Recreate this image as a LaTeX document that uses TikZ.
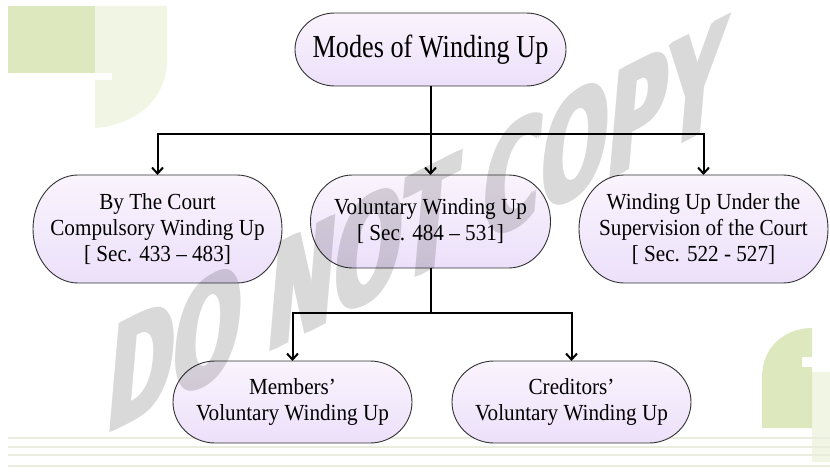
\documentclass[tikz,border=0pt]{standalone}
\usepackage{fontspec}
\setmainfont{Liberation Serif}
\newfontfamily\wmfont{DejaVu Sans}
\usetikzlibrary{arrows.meta}
\definecolor{boxtop}{RGB}{250,244,253}
\definecolor{boxbot}{RGB}{236,224,250}
\definecolor{boxline}{RGB}{50,50,50}
\definecolor{leafgreen}{RGB}{221,232,190}
\definecolor{palegreen}{RGB}{241,245,228}
\definecolor{rulecol}{RGB}{234,236,222}
\tikzset{
  anchorbox/.style={rectangle, draw=none, inner sep=0pt, outer sep=0pt},
  stadium/.style={draw=boxline, line width=0.9pt, top color=boxtop, bottom color=boxbot},
  conn/.style={line width=2pt, draw=black},
  arr/.style={conn, -{Straight Barb[length=6pt,width=11pt]}},
  ttop/.style={font=\fontsize{32}{36}\selectfont, align=center, xscale=0.82, transform shape},
  tmid/.style={font=\fontsize{23}{26}\selectfont, align=center, xscale=0.92, transform shape},
  wmtext/.style={transform shape, inner sep=0pt, text=black, font=\wmfont\bfseries\fontsize{100}{100}\selectfont},
}
\newcommand\mkstad[6]{%
  \node[anchorbox, minimum width=#4pt, minimum height=#5pt] (#1) at (#2,#3) {};
  \path[stadium] ([xshift=#6pt]#1.north west) -- ([xshift=-#6pt]#1.north east)
    arc[start angle=90, end angle=-90, x radius=#6pt, y radius=#5pt/2]
    -- ([xshift=#6pt]#1.south west)
    arc[start angle=270, end angle=90, x radius=#6pt, y radius=#5pt/2] -- cycle;
}
\begin{document}
\begin{tikzpicture}[x=1pt,y=1pt]
\useasboundingbox (0,0) rectangle (830,472);
% background decorations
\fill[leafgreen] (8,466) rectangle (95,399);
\fill[palegreen] (95,466) -- (167,466) -- (167,412) .. controls (167,372) and (135,347) .. (95,344) -- (95,392) -- (112,392) -- (112,399) -- (95,399) -- cycle;
\fill[palegreen] (812,10) rectangle (830,100);
\fill[leafgreen] (762,44) -- (762,95) .. controls (762,125) and (785,144) .. (812,144) -- (812,115) -- (802,115) -- (802,105) -- (812,105) -- (812,44) -- cycle;
\foreach \yy in {34,25,17,6} {\draw[rulecol, line width=1.2pt] (8,\yy) -- (830,\yy);}
% boxes
\mkstad{nTop}{430.5}{422.5}{271}{73}{40}
\mkstad{nCourt}{157.5}{243}{249}{108}{45}
\mkstad{nVol}{430.5}{250.5}{240}{93}{42}
\mkstad{nSup}{703.5}{243}{249}{108}{45}
\mkstad{nMem}{292.5}{70}{239}{82}{42}
\mkstad{nCred}{571.5}{70}{239}{82}{42}
% connectors
\draw[conn] (nTop.south) -- ++(0,-48) coordinate (j1);
\draw[arr] (j1) -| (nCourt.north);
\draw[arr] (j1) -| (nSup.north);
\draw[arr] (j1) -- (nVol.north);
\draw[conn] (nVol.south) -- ++(0,-45) coordinate (j2);
\draw[arr] (j2) -| (nMem.north);
\draw[arr] (j2) -| (nCred.north);
% texts
\node[ttop] (tTop) at (nTop) {Modes of Winding Up};
\node[tmid] (tCourt) at (nCourt) {By The Court\\Compulsory Winding Up\\{[} Sec. 433 – 483]};
\node[tmid] (tVol) at (nVol) {Voluntary Winding Up\\{[} Sec. 484 – 531]};
\node[tmid] (tSup) at (nSup) {Winding Up Under the\\Supervision of the Court\\{[} Sec. 522 - 527]};
\node[tmid] (tMem) at (nMem) {Members’\\Voluntary Winding Up};
\node[tmid] (tCred) at (nCred) {Creditors’\\Voluntary Winding Up};
% watermark
\begin{scope}[transparency group, opacity=0.15]
\begin{scope}[shift={(417,247)}, cm={0.79,0.40,0.13,1.50,(0,0)}]
\foreach \dx in {-3,0,3} {
  \node[wmtext] at (\dx,0) {DO NOT COPY};
}
\end{scope}
\end{scope}
\end{tikzpicture}
\end{document}
